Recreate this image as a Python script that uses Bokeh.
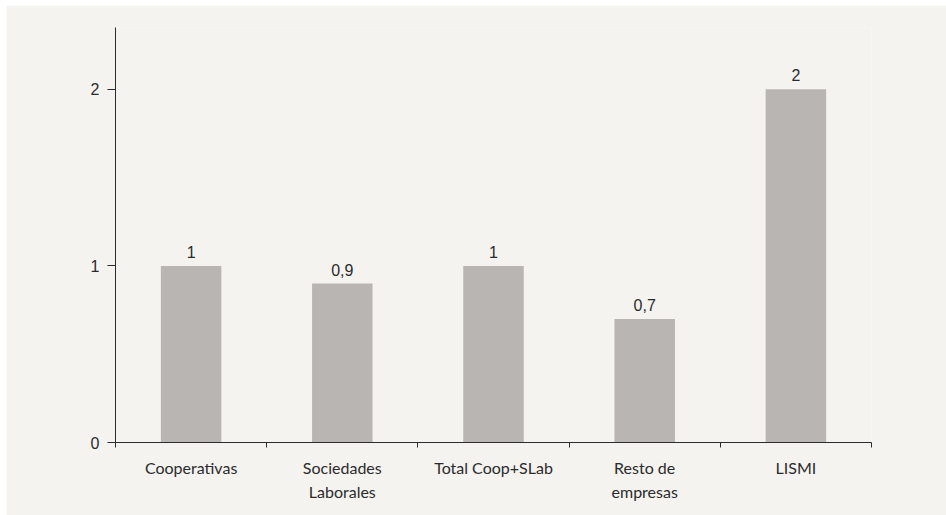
from bokeh.plotting import figure
from bokeh.models import ColumnDataSource, Range1d, FixedTicker, LabelSet
from bokeh.core.properties import value
from bokeh.embed import file_html
from bokeh.resources import INLINE
import numpy as np

# Data
categories = ["Cooperativas", "Sociedades\nLaborales", "Total Coop+SLab",
              "Resto de\nempresas", "LISMI"]
values = [1, 0.9, 1, 0.7, 2]
y_ticks = [0, 1, 2]

BG = "#f4f3f0"
BAR = "#b8b5b2"
INK = "#2b2b2b"

n = len(categories)
xs = np.arange(n) + 0.5
labels = [f"{v:g}".replace(".", ",") for v in values]

source = ColumnDataSource(dict(x=xs, top=values, label=labels))

p = figure(width=940, height=510, output_backend="svg", toolbar_location=None,
           x_range=Range1d(0, n), y_range=Range1d(0, 2.35),
           background_fill_color=BG, border_fill_color=BG,
           min_border_left=109, min_border_right=75,
           min_border_top=22, min_border_bottom=73,
           margin=(5, 0, 0, 6))
p.outline_line_color = None
p.grid.visible = False

p.vbar(x="x", top="top", width=0.4, bottom=0, source=source,
       fill_color=BAR, line_color=None)

p.add_layout(LabelSet(x="x", y="top", text="label", source=source,
                      text_align="center", text_baseline="alphabetic",
                      y_offset=8, text_font=value("Liberation Sans"),
                      text_font_size="16px", text_color=INK))

# x axis: category names centred under bars, tick marks at the boundaries
xa = p.xaxis[0]
xa.ticker = FixedTicker(ticks=list(xs), minor_ticks=list(range(n + 1)))
xa.major_label_overrides = {float(x): c for x, c in zip(xs, categories)}
xa.major_tick_out = 0
xa.major_tick_in = 0
xa.minor_tick_out = 5
xa.minor_tick_in = 0
xa.minor_tick_line_color = INK
xa.axis_line_color = INK
xa.major_label_standoff = 10
xa.major_label_text_font = "Lato"
xa.major_label_text_font_size = "16px"
xa.major_label_text_color = INK
xa.major_label_text_line_height = 1.3

ya = p.yaxis[0]
ya.ticker = FixedTicker(ticks=y_ticks, minor_ticks=[])
ya.major_tick_out = 8
ya.major_tick_in = 0
ya.major_tick_line_color = INK
ya.axis_line_color = INK
ya.major_label_standoff = 8
ya.major_label_text_font = "Liberation Sans"
ya.major_label_text_font_size = "16px"
ya.major_label_text_color = INK

open("out.html", "w").write(file_html(p, INLINE))
